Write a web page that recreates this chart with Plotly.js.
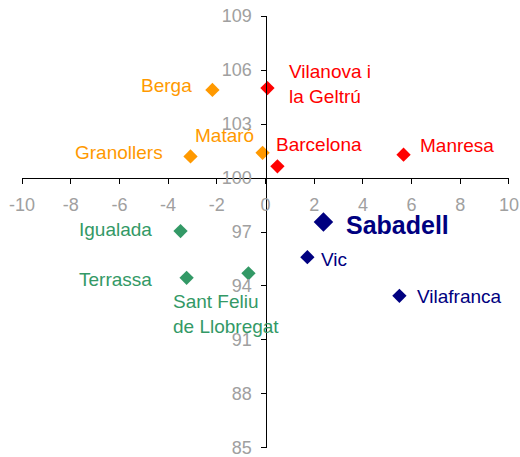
<!DOCTYPE html>
<html><head><meta charset="utf-8">
<script src="https://cdn.plot.ly/plotly-3.0.1.min.js"></script>
<style>html,body{margin:0;padding:0;background:#fff}#chart{width:520px;height:457px}</style>
</head><body><div id="chart"></div>
<script>
// Data
const names = ["Berga","Vilanova i<br>la Geltrú","Mataró","Granollers","Barcelona","Manresa","Sabadell","Vic","Vilafranca","Igualada","Terrassa","Sant Feliu<br>de Llobregat"];
const xVals = [-2.18, 0.08, -0.12, -3.08, 0.49, 5.67, 2.38, 1.72, 5.5, -3.49, -3.24, -0.7];
const yVals = [104.9, 105.0, 101.4, 101.2, 100.65, 101.3, 97.55, 95.6, 93.45, 97.05, 94.45, 94.7];
const groupOf = ["orange","red","orange","orange","red","red","navy","navy","navy","green","green","green"];
const xTicks = [-10,-8,-6,-4,-2,0,2,4,6,8,10];
const yTicks = [85,88,91,94,97,100,103,106,109];

// Styles
const colors = {orange:"#FF9900", red:"#FF0000", navy:"#000080", green:"#339966"};
const markerSize = [11,11,11,11,11,11,15,11,11,11,11,11];
const lblAnchor = ["right","left","right","right","left","left","left","left","left","right","right","left"];
const lblXShift = [-18,20,-7,-26,-3,14,21,12,16,-27,-33,-77];
const lblYShift = [4,4,17,4,22,9,-3,-2,-1,2,-2,-41];

const traces = [];
["orange","red","green","navy"].forEach(g=>{
  const idx = names.map((_,i)=>i).filter(i=>groupOf[i]===g);
  traces.push({
    type:"scatter", mode:"markers",
    x: idx.map(i=>xVals[i]), y: idx.map(i=>yVals[i]),
    marker:{symbol:"diamond", color:colors[g], opacity:1, size: idx.map(i=>markerSize[i]), line:{width:0}},
    opacity:1, hoverinfo:"skip", showlegend:false, cliponaxis:false
  });
});

const annotations = names.map((n,i)=>({
  x:xVals[i], y:yVals[i], xref:"x", yref:"y", text: n==="Sabadell" ? "<b>"+n+"</b>" : n,
  showarrow:false, xanchor:lblAnchor[i], yanchor:"middle", align:"left",
  xshift:lblXShift[i], yshift:lblYShift[i],
  font:{family:"Liberation Sans, Arial, sans-serif", size: n==="Sabadell"?25:19, color:colors[groupOf[i]]}
}));

const layout = {
  width:520, height:457,
  margin:{l:22, r:11, t:16, b:9},
  paper_bgcolor:"#fff", plot_bgcolor:"#fff",
  font:{family:"Liberation Sans, Arial, sans-serif"},
  xaxis:{range:[-10.001,10.001], tickvals:xTicks, ticktext:xTicks.map(String), showgrid:false, zeroline:false,
    showline:true, linecolor:"#000", linewidth:1, ticks:"outside", ticklen:5, tickcolor:"#000",
    anchor:"free", position:(100-84.99)/(109.01-84.99), side:"bottom", ticklabelstandoff:5,
    ticklabeloverflow:"allow", tickfont:{size:18, color:"#A0A0A0"}},
  yaxis:{range:[84.99,109.01], tickvals:yTicks, ticktext:yTicks.map(String), showgrid:false, zeroline:false,
    showline:true, linecolor:"#000", linewidth:1, ticks:"outside", ticklen:5, tickcolor:"#000",
    anchor:"free", position:0.5, side:"left", ticklabelstandoff:5,
    ticklabeloverflow:"allow", tickfont:{size:18, color:"#A0A0A0"}},
  annotations: annotations
};
Plotly.newPlot("chart", traces, layout, {staticPlot:true});
</script></body></html>
